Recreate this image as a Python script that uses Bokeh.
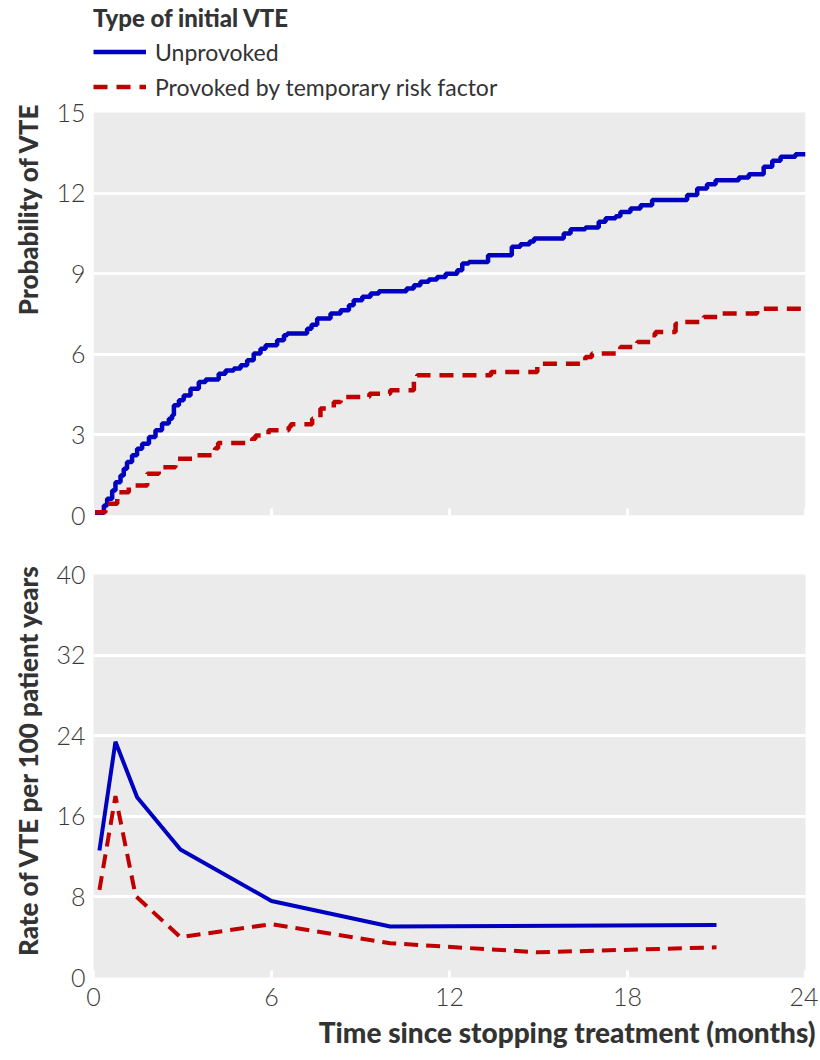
from bokeh.plotting import figure
from bokeh.models import Range1d, FixedTicker, Title, BoxAnnotation
from bokeh.layouts import column
from bokeh.embed import file_html
from bokeh.resources import INLINE

# ---------------- data ----------------
x_ticks = [0, 6, 12, 18, 24]
top_y_ticks = [0, 3, 6, 9, 12, 15]
bottom_y_ticks = [0, 8, 16, 24, 32, 40]

series_names = ["Unprovoked", "Provoked by temporary risk factor"]

# cumulative probability of VTE (%), step curves
unprov_cum_t = [0, 0.35, 0.46, 0.63, 0.74, 0.91, 1.02, 1.13, 1.30, 1.47, 1.64, 1.87,
                2.09, 2.31, 2.54, 2.65, 2.71, 2.88, 3.04, 3.27, 3.55, 3.78, 4.22,
                4.45, 4.73, 4.96, 5.18, 5.40, 5.63, 5.80, 6.19, 6.42, 6.53, 7.2,
                7.35, 7.54, 7.99, 8.33, 8.61, 8.77, 9.06, 9.34, 9.62, 10.55, 10.8,
                11.02, 11.3, 11.58, 11.87, 12.26, 12.43, 12.65, 13.3, 14.1, 14.39,
                14.7, 14.85, 15.85, 16.08, 16.58, 17.03, 17.26, 17.6, 17.76, 18.1,
                18.44, 18.83, 20.01, 20.35, 20.68, 20.97, 21.75, 22.09, 22.59,
                22.88, 23.16, 23.66, 24]
unprov_cum_v = [0.1, 0.37, 0.62, 0.93, 1.24, 1.49, 1.74, 1.99, 2.24, 2.48, 2.67, 2.92,
                3.17, 3.42, 3.60, 3.73, 4.1, 4.29, 4.47, 4.72, 4.97, 5.06, 5.28,
                5.40, 5.47, 5.59, 5.78, 6.03, 6.21, 6.34, 6.52, 6.71, 6.77, 6.95,
                7.1, 7.33, 7.52, 7.64, 7.83, 8.01, 8.14, 8.26, 8.35, 8.45, 8.57,
                8.70, 8.78, 8.88, 9.0, 9.13, 9.38, 9.44, 9.69, 10.0, 10.1,
                10.2, 10.31, 10.5, 10.65, 10.72, 10.93, 11.06, 11.14, 11.3, 11.43,
                11.55, 11.74, 11.93, 12.17, 12.33, 12.48, 12.58, 12.7, 12.98,
                13.2, 13.35, 13.45, 13.45]

prov_cum_t = [0, 0.40, 0.80, 1.19, 1.81, 2.2, 2.76, 3.49, 4.1, 4.2, 5.35, 5.46, 5.9,
              6.58, 6.65, 7.37, 7.65, 8.1, 8.33, 9.3, 10.0, 10.8, 10.91, 13.4, 14.96,
              16.58, 16.8, 17.76, 18.33, 18.78, 18.94, 19.62, 19.8, 20.57, 21.1,
              22.37, 24]
prov_cum_v = [0.12, 0.44, 0.87, 1.12, 1.55, 1.80, 2.11, 2.24, 2.5, 2.7, 2.86, 2.98, 3.17,
              3.29, 3.4, 3.6, 3.98, 4.22, 4.41, 4.53, 4.66, 5.09, 5.22, 5.34, 5.65,
              5.9, 6.03, 6.27, 6.46, 6.71, 6.83, 7.14, 7.2, 7.39, 7.52,
              7.7, 7.7]

# rate of VTE per 100 patient years
rate_unprov_t = [0.2, 0.74, 1.47, 2.93, 6.0, 10.0, 21.0]
rate_unprov_v = [12.6, 23.4, 17.9, 12.7, 7.6, 5.06, 5.2]
rate_prov_t = [0.2, 0.74, 1.42, 2.93, 6.0, 10.0, 15.0, 21.0]
rate_prov_v = [8.7, 18.0, 8.1, 4.0, 5.3, 3.4, 2.5, 3.0]

# ---------------- styling ----------------
BLUE = "#0000c0"
RED = "#c00000"
BG = "#ebebeb"
TXT = "#333333"
TICK_TXT = "#3a3a3a"
FONT = "Lato"
FONT_LIGHT = "Lato Light"
FONT_HEAVY = "Lato Black"

W = 818
FRAME_L = 93
FRAME_R = 13

# top panel: the frame also holds the legend above the grey data area
TOP_BORDER = 3
TOP_FRAME_H = 512          # px, frame height of the upper panel
DATA_H = 403               # px, height of the grey 0..15 area
Y_TOP = top_y_ticks[-1] * TOP_FRAME_H / DATA_H


def style(p, show_x_labels, grid_ticks):
    p.border_fill_color = "white"
    p.outline_line_color = None
    p.xgrid.grid_line_color = None
    p.ygrid.grid_line_color = "white"
    p.ygrid.grid_line_width = 3
    p.ygrid.ticker = FixedTicker(ticks=grid_ticks)
    for ax in p.yaxis:
        ax.axis_line_color = None
        ax.major_tick_in = 0
        ax.major_tick_out = 0
        ax.minor_tick_line_color = None
        ax.major_label_standoff = 8
        ax.major_label_text_font = FONT_LIGHT
        ax.major_label_text_font_size = "25px"
        ax.major_label_text_color = TICK_TXT
    for ax in p.xaxis:
        ax.ticker = FixedTicker(ticks=x_ticks)
        ax.axis_line_color = None
        ax.major_tick_in = 7
        ax.major_tick_out = 0
        ax.major_tick_line_color = "white"
        ax.major_tick_line_width = 3
        ax.minor_tick_line_color = None
        ax.major_label_text_font = FONT_LIGHT
        ax.major_label_text_font_size = "25px"
        ax.major_label_text_color = TICK_TXT
        ax.major_label_standoff = 10
        if not show_x_labels:
            ax.major_label_overrides = {t: "" for t in x_ticks}


def ytitle(text, offset):
    return Title(text=text, align="right", vertical_align="middle", offset=offset,
                 text_font=FONT_HEAVY, text_font_style="normal", text_font_size="26px",
                 text_color=TXT, standoff=18)


# ---------------- top: cumulative probability ----------------
p1 = figure(width=W, height=545, output_backend="svg", toolbar_location=None,
            x_range=Range1d(0, 24), y_range=Range1d(0, Y_TOP),
            min_border_left=FRAME_L, min_border_right=FRAME_R,
            min_border_top=TOP_BORDER, min_border_bottom=30)
p1.background_fill_color = "white"
p1.add_layout(BoxAnnotation(bottom=top_y_ticks[0], top=top_y_ticks[-1], fill_color=BG,
                            fill_alpha=1, line_color=None, level="image"))
p1.step(unprov_cum_t, unprov_cum_v, mode="after", line_color=BLUE, line_width=4.5,
        legend_label=series_names[0])
p1.step(prov_cum_t, prov_cum_v, mode="after", line_color=RED, line_width=4.5,
        line_dash="14 9", legend_label=series_names[1])
p1.yaxis.ticker = FixedTicker(ticks=top_y_ticks)
style(p1, False, top_y_ticks[1:-1])
p1.add_layout(ytitle("Probability of VTE", TOP_FRAME_H - DATA_H - 10), "left")

lg = p1.legend[0]
lg.location = "top_left"
lg.title = "Type of initial VTE"
lg.title_text_font = FONT_HEAVY
lg.title_text_font_style = "normal"
lg.title_text_font_size = "24px"
lg.title_text_color = TXT
lg.title_standoff = 2
lg.label_text_font = FONT
lg.label_text_font_size = "23px"
lg.label_text_color = TXT
lg.glyph_width = 53
lg.glyph_height = 35
lg.label_height = 35
lg.label_standoff = 9
lg.spacing = 0
lg.padding = 0
lg.margin = 0
lg.border_line_color = None
lg.background_fill_alpha = 0

# ---------------- bottom: rate ----------------
p2 = figure(width=W, height=515, output_backend="svg", toolbar_location=None,
            x_range=Range1d(0, 24), y_range=Range1d(0, 40),
            min_border_left=FRAME_L, min_border_right=FRAME_R,
            min_border_top=29, min_border_bottom=83)
p2.background_fill_color = BG
p2.line(rate_unprov_t, rate_unprov_v, line_color=BLUE, line_width=4)
p2.line(rate_prov_t, rate_prov_v, line_color=RED, line_width=4, line_dash="14 8")
p2.yaxis.ticker = FixedTicker(ticks=bottom_y_ticks)
style(p2, True, bottom_y_ticks[1:-1])
p2.add_layout(ytitle("Rate of VTE per 100 patient years", -11), "left")

xt = Title(text="Time since stopping treatment (months)", align="right", offset=-10,
           text_font=FONT_HEAVY, text_font_style="normal", text_font_size="28px",
           text_color=TXT, standoff=8)
p2.add_layout(xt, "below")

layout = column(p1, p2, spacing=0)
open("out.html", "w").write(file_html(layout, INLINE))
